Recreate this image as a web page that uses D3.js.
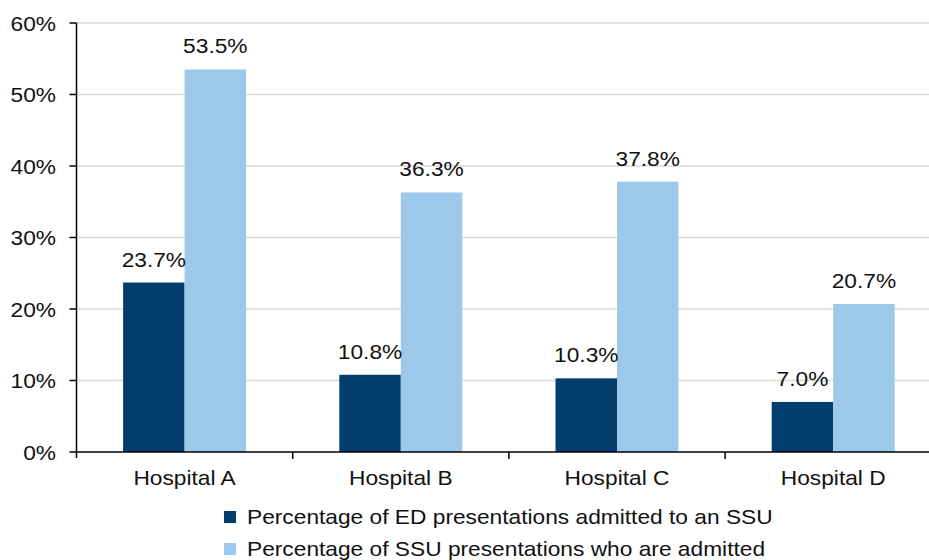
<!DOCTYPE html>
<html>
<head>
<meta charset="utf-8">
<script src="https://cdn.jsdelivr.net/npm/d3@7"></script>
<style>
  html, body { margin: 0; padding: 0; background: #fff; }
  svg { display: block; }
  text { font-family: "Liberation Sans", Arial, sans-serif; fill: #111; }
</style>
</head>
<body>
<svg id="chart" width="929" height="560"></svg>
<script>
// Data
const hospitals = ["Hospital A", "Hospital B", "Hospital C", "Hospital D"];
const seriesNames = [
  "Percentage of ED presentations admitted to an SSU",
  "Percentage of SSU presentations who are admitted"
];
const edAdmittedToSSU = [23.7, 10.8, 10.3, 7.0];
const ssuAdmitted = [53.5, 36.3, 37.8, 20.7];
const seriesValues = [edAdmittedToSSU, ssuAdmitted];
const seriesColors = ["#023d6b", "#9cc8ea"];
const yTicks = [0, 10, 20, 30, 40, 50, 60];

const W = 929, H = 560;
const plotLeft = 76.5, plotTop = 23, plotBottom = 452;
const catWidth = 216.2;
const textScaleX = 1.12;   // glyphs are slightly wider than tall
const fontSize = 20.3;

const svg = d3.select("#chart");

const y = d3.scaleLinear().domain([0, 60]).range([plotBottom, plotTop]);
const x0 = d3.scaleBand().domain(hospitals)
  .range([plotLeft, plotLeft + catWidth * hospitals.length]).paddingInner(0).paddingOuter(0);
const x1 = d3.scaleBand().domain(d3.range(seriesNames.length))
  .range([0, x0.bandwidth()]).paddingInner(0).paddingOuter(0.758);

function label(sel, txt, xx, yy, anchor) {
  return sel.append("text")
    .attr("transform", `translate(${xx},${yy}) scale(${textScaleX},1)`)
    .attr("text-anchor", anchor)
    .style("font-size", fontSize + "px")
    .text(txt);
}

// Gridlines
svg.append("g").selectAll("line")
  .data(yTicks.filter(d => d > 0))
  .join("line")
  .attr("x1", plotLeft).attr("x2", W)
  .attr("y1", d => y(d)).attr("y2", d => y(d))
  .attr("stroke", "#d9d9d9").attr("stroke-width", 1.5);

// Bars
const groups = svg.append("g").selectAll("g")
  .data(hospitals)
  .join("g")
  .attr("transform", d => `translate(${x0(d)},0)`);

groups.selectAll("rect")
  .data((d, i) => seriesValues.map((vals, s) => ({ s, v: vals[i] })))
  .join("rect")
  .attr("x", d => x1(d.s))
  .attr("width", x1.bandwidth())
  .attr("y", d => y(d.v))
  .attr("height", d => y(0) - y(d.v))
  .attr("fill", d => seriesColors[d.s]);

// Value labels
groups.each(function(h, i) {
  const g = d3.select(this);
  seriesValues.forEach((vals, s) => {
    label(g, vals[i].toFixed(1) + "%", x1(s) + x1.bandwidth() / 2, y(vals[i]) - 16, "middle");
  });
});

// Y axis
const yAxis = svg.append("g");
yAxis.append("line")
  .attr("x1", plotLeft).attr("x2", plotLeft).attr("y1", plotTop).attr("y2", plotBottom + 6)
  .attr("stroke", "#000").attr("stroke-width", 1.5);
yAxis.selectAll("line.tick")
  .data(yTicks).join("line").attr("class", "tick")
  .attr("x1", plotLeft - 7).attr("x2", plotLeft)
  .attr("y1", d => y(d)).attr("y2", d => y(d))
  .attr("stroke", "#000").attr("stroke-width", 1.5);
yTicks.forEach(t => label(yAxis, t + "%", 56, y(t) + 7.5, "end"));

// X axis
const xAxis = svg.append("g");
xAxis.append("line")
  .attr("x1", plotLeft).attr("x2", W).attr("y1", plotBottom).attr("y2", plotBottom)
  .attr("stroke", "#000").attr("stroke-width", 1.5);
xAxis.selectAll("line.tick")
  .data(hospitals.slice(1)).join("line").attr("class", "tick")
  .attr("x1", d => x0(d)).attr("x2", d => x0(d))
  .attr("y1", plotBottom).attr("y2", plotBottom + 7)
  .attr("stroke", "#000").attr("stroke-width", 1.5);
hospitals.forEach(h => label(xAxis, h, x0(h) + x0.bandwidth() / 2, 485, "middle"));

// Legend
const legend = svg.append("g");
seriesNames.forEach((name, s) => {
  const ly = 517 + s * 32;
  legend.append("rect")
    .attr("x", 224).attr("y", ly - 6).attr("width", 12).attr("height", 12)
    .attr("fill", seriesColors[s]);
  label(legend, name, 247, ly + 7, "start");
});
</script>
</body>
</html>
